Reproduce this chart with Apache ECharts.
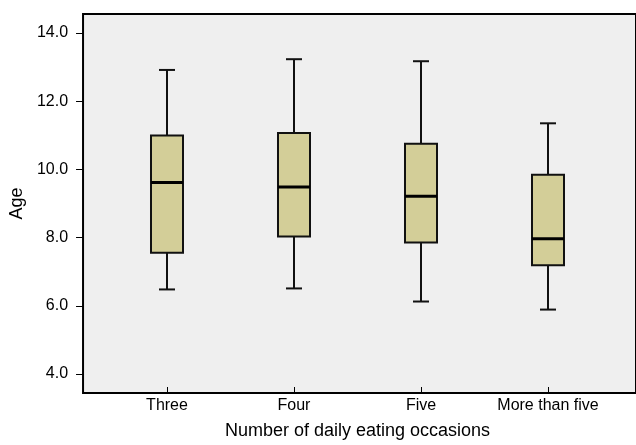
<!DOCTYPE html>
<html>
<head>
<meta charset="utf-8">
<script src="https://cdn.jsdelivr.net/npm/echarts@6/dist/echarts.min.js"></script>
<style>
html,body{margin:0;padding:0;background:#fff;}
#c{width:636px;height:445px;}
</style>
</head>
<body>
<div id="c"></div>
<script>
const categories = ['Three', 'Four', 'Five', 'More than five'];
const whiskerLow = [6.35, 6.38, 5.99, 5.75];
const q1 = [7.44, 7.93, 7.75, 7.07];
const medians = [9.54, 9.40, 9.13, 7.86];
const q3 = [10.94, 11.01, 10.69, 9.77];
const whiskerHigh = [12.89, 13.21, 13.15, 11.30];
const yTicks = [4, 6, 8, 10, 12, 14];

const boxData = categories.map((c, i) => [i, whiskerLow[i], q1[i], medians[i], q3[i], whiskerHigh[i]]);

const chart = echarts.init(document.getElementById('c'), null, {renderer: 'canvas'});
const FONT = 'Liberation Sans, Arial, Helvetica, sans-serif';
const Y_MIN = 3.443, Y_MAX = 14.557;

chart.setOption({
  animation: false,
  backgroundColor: '#ffffff',
  grid: [
    {left: 75, right: 0, top: 14, bottom: 52, show: true, backgroundColor: '#efefef', borderColor: '#000', borderWidth: 2},
    {left: 103.5, right: 24.5, top: 14, bottom: 52}
  ],
  xAxis: [
    {gridIndex: 0, type: 'value', min: 0, max: 1, show: false},
    {
      gridIndex: 1, type: 'category', data: categories, boundaryGap: true,
      axisLine: {show: false},
      axisTick: {show: true, alignWithLabel: true, interval: 0, length: 5, lineStyle: {color: '#000', width: 1}},
      axisLabel: {color: '#000', fontSize: 16, fontFamily: FONT, margin: 11, interval: 0, hideOverlap: false},
      splitLine: {show: false},
      name: 'Number of daily eating occasions', nameLocation: 'middle', nameGap: 35,
      nameTextStyle: {color: '#000', fontSize: 18, fontFamily: FONT}
    }
  ],
  yAxis: [
    {
      gridIndex: 0, type: 'value', min: Y_MIN, max: Y_MAX,
      axisLine: {show: false},
      axisTick: {show: true, length: 7, customValues: yTicks, lineStyle: {color: '#000', width: 1}},
      axisLabel: {customValues: yTicks, formatter: v => Number(v).toFixed(1), color: '#000', fontSize: 16, fontFamily: FONT, margin: 15},
      splitLine: {show: false},
      name: 'Age', nameLocation: 'middle', nameGap: 44,
      nameTextStyle: {color: '#000', fontSize: 18, fontFamily: FONT}
    },
    {gridIndex: 1, type: 'value', min: Y_MIN, max: Y_MAX, show: false}
  ],
  series: [{
    type: 'custom',
    xAxisIndex: 1, yAxisIndex: 1,
    data: boxData,
    encode: {x: 0, y: [1, 2, 3, 4, 5]},
    renderItem: function (params, api) {
      const i = api.value(0);
      const pMin = api.coord([i, api.value(1)]);
      const pQ1 = api.coord([i, api.value(2)]);
      const pMed = api.coord([i, api.value(3)]);
      const pQ3 = api.coord([i, api.value(4)]);
      const pMax = api.coord([i, api.value(5)]);
      const band = api.size([1, 0])[0];
      const bw = band * 0.252;
      const cw = bw / 2;
      const cx = pMin[0];
      const ls = {stroke: '#111', lineWidth: 2};
      return {
        type: 'group',
        children: [
          {type: 'line', shape: {x1: cx, y1: pQ3[1], x2: cx, y2: pMax[1]}, style: ls},
          {type: 'line', shape: {x1: cx, y1: pQ1[1], x2: cx, y2: pMin[1]}, style: ls},
          {type: 'line', shape: {x1: cx - cw / 2, y1: pMax[1], x2: cx + cw / 2, y2: pMax[1]}, style: ls},
          {type: 'line', shape: {x1: cx - cw / 2, y1: pMin[1], x2: cx + cw / 2, y2: pMin[1]}, style: ls},
          {type: 'rect', shape: {x: cx - bw / 2, y: pQ3[1], width: bw, height: pQ1[1] - pQ3[1]},
            style: {fill: '#d3ce98', stroke: '#111', lineWidth: 2}},
          {type: 'line', shape: {x1: cx - bw / 2, y1: pMed[1], x2: cx + bw / 2, y2: pMed[1]}, style: {stroke: '#000', lineWidth: 3}}
        ]
      };
    }
  }]
});
</script>
</body>
</html>
